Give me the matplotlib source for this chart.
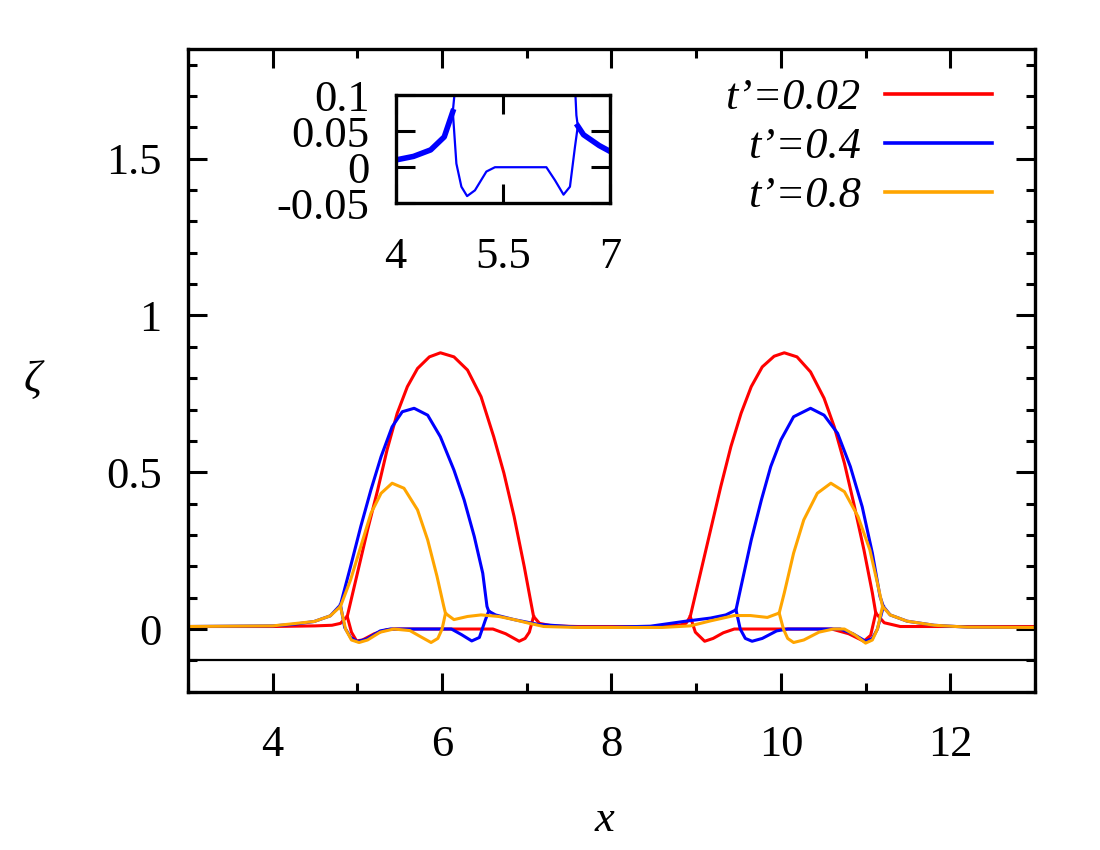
import matplotlib
matplotlib.use("Agg")
import matplotlib.pyplot as plt
import numpy as np

plt.rcParams["font.family"] = ["Liberation Serif", "DejaVu Serif"]
plt.rcParams["axes.unicode_minus"] = False

# t'=0.02 (upper curve: tails + humps, lower: branches under the humps)
red_x = [3.0, 4.0, 4.5, 4.7, 4.8, 4.88, 5.0, 5.12, 5.24, 5.35, 5.47, 5.59, 5.71,
         5.85, 5.98, 6.14, 6.3, 6.46, 6.61, 6.73, 6.85, 6.97, 7.05, 7.08, 7.15,
         7.3, 7.6, 8.0, 8.5, 8.8, 8.88, 8.93, 9.05, 9.17, 9.29, 9.41, 9.53, 9.65,
         9.78, 9.92, 10.04, 10.19, 10.35, 10.51, 10.63, 10.75, 10.86, 10.98,
         11.08, 11.12, 11.22, 11.41, 12.0, 13.0]
red_y = [0.008, 0.008, 0.01, 0.012, 0.018, 0.04, 0.178, 0.316, 0.444, 0.571,
         0.688, 0.773, 0.831, 0.868, 0.881, 0.868, 0.826, 0.741, 0.613, 0.497,
         0.359, 0.199, 0.083, 0.04, 0.018, 0.01, 0.008, 0.008, 0.008, 0.012,
         0.018, 0.04, 0.178, 0.316, 0.454, 0.582, 0.688, 0.773, 0.836, 0.87,
         0.881, 0.868, 0.82, 0.736, 0.645, 0.529, 0.401, 0.253, 0.115, 0.051,
         0.02, 0.008, 0.008, 0.008]
red_low_x = [4.88, 4.93, 4.99, 5.06, 5.2, 5.35, 5.43, 6.6, 6.75, 6.91, 6.98, 7.03, 7.08,
             np.nan, 8.93, 8.99, 9.1, 9.2, 9.32, 9.45, 10.6, 10.8, 10.98, 11.06, 11.12]
red_low_y = [0.04, -0.01, -0.038, -0.035, -0.015, -0.002, 0.0, 0.0, -0.015, -0.039,
             -0.03, -0.01, 0.04, np.nan, 0.04, -0.01, -0.039, -0.03, -0.012, 0.0,
             0.0, -0.015, -0.039, -0.02, 0.051]

# t'=0.4
blue_x = [3.0, 4.0, 4.25, 4.49, 4.68, 4.8, 4.92, 5.04, 5.16, 5.28, 5.41, 5.53, 5.67,
          5.83, 5.98, 6.14, 6.26, 6.38, 6.48, 6.53, 6.55, 6.63, 6.85, 7.13, 7.6,
          8.0, 8.46, 8.85, 9.17, 9.35, 9.47, 9.53, 9.65, 9.77, 9.88, 10.0, 10.15,
          10.35, 10.51, 10.67, 10.82, 10.96, 11.08, 11.17, 11.21, 11.29, 11.49,
          11.81, 12.2, 13.0]
blue_y = [0.008, 0.01, 0.015, 0.024, 0.042, 0.077, 0.2, 0.327, 0.444, 0.55, 0.645,
          0.693, 0.704, 0.682, 0.613, 0.507, 0.412, 0.295, 0.178, 0.072, 0.057,
          0.045, 0.03, 0.015, 0.006, 0.006, 0.009, 0.024, 0.035, 0.045, 0.061,
          0.136, 0.284, 0.412, 0.518, 0.603, 0.677, 0.704, 0.682, 0.624, 0.518,
          0.39, 0.242, 0.104, 0.072, 0.045, 0.025, 0.012, 0.006, 0.005]
blue_low_x = [4.8, 4.85, 4.92, 5.0, 5.11, 5.27, 5.39, 6.11, 6.23, 6.35, 6.44, 6.51, 6.55,
              np.nan, 9.47, 9.52, 9.58, 9.66, 9.78, 9.95, 10.08, 10.7, 10.85, 11.0,
              11.08, 11.14, 11.21]
blue_low_y = [0.077, 0.005, -0.027, -0.04, -0.032, -0.006, 0.0, 0.0, -0.018, -0.038,
              -0.027, 0.028, 0.057, np.nan, 0.061, 0.0, -0.03, -0.039, -0.03, -0.006,
              0.0, 0.0, -0.015, -0.039, -0.03, 0.0, 0.072]

# t'=0.8
orange_x = [3.0, 4.0, 4.49, 4.68, 4.8, 4.92, 5.04, 5.16, 5.28, 5.41, 5.55, 5.71,
            5.83, 5.94, 6.02, 6.04, 6.14, 6.3, 6.46, 6.67, 6.85, 7.0, 7.2, 7.6, 8.6,
            8.93, 9.17, 9.45, 9.64, 9.84, 9.98, 10.04, 10.15, 10.27, 10.43, 10.59,
            10.75, 10.91, 11.05, 11.14, 11.2, 11.29, 11.49, 11.81, 12.2, 13.0]
orange_y = [0.008, 0.01, 0.024, 0.042, 0.072, 0.157, 0.263, 0.369, 0.433, 0.465,
            0.449, 0.38, 0.284, 0.168, 0.072, 0.05, 0.03, 0.04, 0.045, 0.04, 0.03,
            0.02, 0.008, 0.005, 0.005, 0.01, 0.026, 0.043, 0.043, 0.037, 0.051,
            0.115, 0.242, 0.348, 0.433, 0.465, 0.438, 0.359, 0.253, 0.146, 0.072,
            0.045, 0.025, 0.012, 0.006, 0.005]
orange_low_x = [4.8, 4.86, 4.93, 5.02, 5.12, 5.27, 5.43, 5.62, 5.75, 5.87, 5.95, 6.0,
                6.04, np.nan, 9.98, 10.03, 10.08, 10.15, 10.27, 10.45, 10.62, 10.75,
                10.88, 11.0, 11.08, 11.14, 11.2]
orange_low_y = [0.072, 0.0, -0.035, -0.043, -0.035, -0.01, 0.0, -0.005, -0.025,
                -0.043, -0.03, 0.0, 0.05, np.nan, 0.051, 0.0, -0.03, -0.043, -0.035,
                -0.01, 0.0, 0.0, -0.02, -0.045, -0.035, 0.0, 0.072]

labels = ["t\u2019=0.02", "t\u2019=0.4", "t\u2019=0.8"]
colors = ["#ff0000", "#0000ff", "#ffa500"]
bottom_level = -0.1
fs = 32

fig = plt.figure(figsize=(11, 8.5), dpi=100)
ax = fig.add_axes([0.1709, 0.1862, 0.77, 0.7562])

series = [(red_x, red_y, red_low_x, red_low_y),
          (blue_x, blue_y, blue_low_x, blue_low_y),
          (orange_x, orange_y, orange_low_x, orange_low_y)]
for (xu, yu, xl, yl), c, lab in zip(series, colors, labels):
    ax.plot(xu, yu, color=c, lw=2.2, label=lab)
    ax.plot(xl, yl, color=c, lw=2.2)
ax.axhline(bottom_level, color="black", lw=1.6)

ax.set_xlim(3, 13)
ax.set_ylim(-0.2, 1.85)
ax.set_xticks([4, 6, 8, 10, 12])
ax.set_xticks(np.arange(3, 13.01, 1), minor=True)
ax.set_yticks([0, 0.5, 1, 1.5])
ax.set_yticklabels(["0", "0.5", "1", "1.5"])
ax.set_yticks(np.arange(-0.2, 1.851, 0.1), minor=True)
ax.tick_params(which="both", direction="in", top=True, right=True, width=2.2,
               labelsize=fs)
ax.tick_params(which="major", length=13.5, pad=19)
ax.tick_params(which="minor", length=6.5)
ax.tick_params(axis="x", which="major", pad=24)
for s in ax.spines.values():
    s.set_linewidth(2.4)

ax.set_xlabel("x", fontsize=fs, style="italic", va="center")
ax.xaxis.set_label_coords(0.492, -0.2)
ax.set_ylabel("\u03b6", fontsize=fs, style="italic", rotation=0, va="center")
ax.yaxis.set_label_coords(-0.183, 0.485)

leg = ax.legend(loc="upper right", bbox_to_anchor=(0.975, 0.989), frameon=False,
                markerfirst=False, fontsize=fs, handlelength=2.4,
                handletextpad=0.55, labelspacing=0.2, borderpad=0)
for t in leg.get_texts():
    t.set_style("italic")
for h in leg.get_lines():
    h.set_linewidth(2.6)

# inset: zoom of t'=0.4
axin = fig.add_axes([0.3597, 0.7608, 0.1948, 0.1274])
bx = np.array(blue_x)
by = np.array(blue_y)
axin.plot(bx, by, color=colors[1], lw=1.6)
axin.plot(blue_low_x, blue_low_y, color=colors[1], lw=1.6)
axin.plot(np.where(bx <= 4.8, bx, np.nan), by, color=colors[1], lw=4)
axin.plot(np.where(bx >= 6.55, bx, np.nan), by, color=colors[1], lw=4)
axin.set_xlim(4, 7)
axin.set_ylim(-0.05, 0.1)
axin.set_xticks([4, 5.5, 7])
axin.set_xticklabels(["4", "5.5", "7"])
axin.set_yticks([-0.05, 0, 0.05, 0.1])
axin.set_yticklabels(["-0.05", "0", "0.05", "0.1"])
axin.tick_params(direction="in", top=True, right=True, width=2.2, length=13.5,
                 labelsize=fs, pad=19)
axin.tick_params(axis="x", pad=24)
for s in axin.spines.values():
    s.set_linewidth(2.4)

fig.savefig("out.png", dpi=100)
